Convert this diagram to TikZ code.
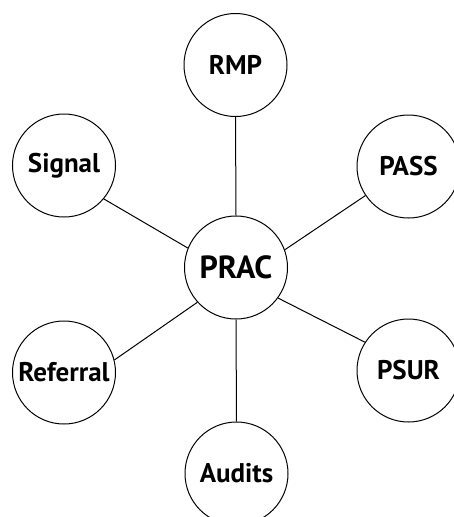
\documentclass[tikz,border=0pt]{standalone}
\usepackage{fontspec}
\setmainfont{PT Sans}
\begin{document}
\begin{tikzpicture}[x=1pt,y=-1pt,
  hub/.style={circle,draw,line width=1pt,minimum size=103pt,inner sep=0pt,font=\bfseries\fontsize{27}{27}\selectfont},
  center/.style={hub,font=\bfseries\fontsize{32}{32}\selectfont},
  link/.style={line width=1pt}]
\useasboundingbox (0,0) rectangle (454,517);
\clip (0,0) rectangle (454,517);
\node[center] (prac) at (236,267.5) {PRAC};
\node[hub] (rmp) at (235.5,65) {RMP};
\node[hub] (signal) at (64,165.5) {Signal};
\node[hub] (pass) at (408.5,166.5) {PASS};
\node[hub] (referral) at (64,372.5) {Referral};
\node[hub] (psur) at (408.5,370.5) {PSUR};
\node[hub] (audits) at (236.5,473.5) {Audits};
\draw[link] (prac.north) -- (rmp.south);
\draw[link] (prac.south) -- (audits.north);
\draw[link] (signal.-40) -- (prac.158);
\draw[link] (pass.214.6) -- (prac.20.9);
\draw[link] (referral.14.3) -- (prac.222.3);
\draw[link] (psur.147.7) -- (prac.-36.9);
\end{tikzpicture}
\end{document}
